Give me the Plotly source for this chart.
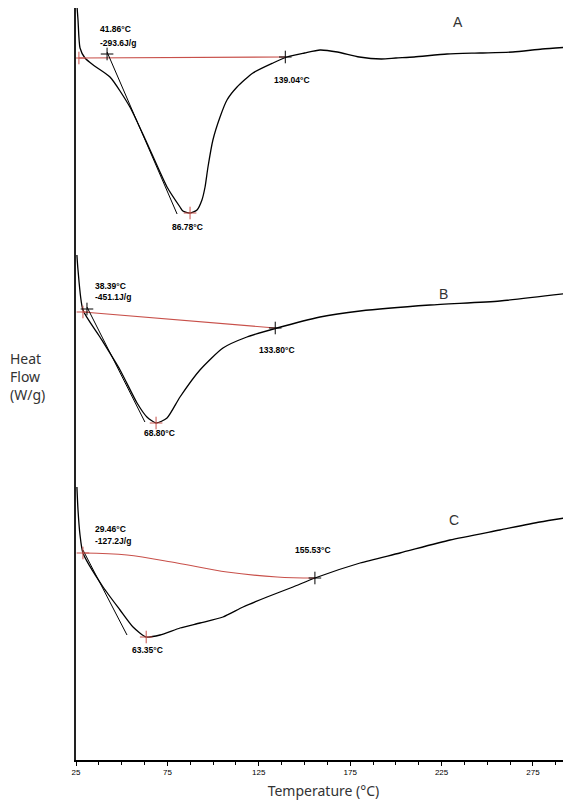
import plotly.graph_objects as go

# ---- Curve A ----
tA = [25.5, 26.1, 27.2, 29.9, 34.4, 43.6, 54.5, 63.8, 74.8, 81.9, 83.5, 87.4, 91.2, 93.9, 95.6, 97.2, 99.9,
      103.8, 107.6, 113.1, 121.8, 132.8, 140.4, 150, 158.5, 168, 180, 192, 200, 210, 228, 246, 264, 280, 295.8]
hA = [7.55, 7.40, 7.12, 7.02, 6.95, 6.83, 6.53, 6.17, 5.73, 5.53, 5.49, 5.47, 5.50, 5.60, 5.73, 5.93, 6.20,
      6.43, 6.60, 6.73, 6.87, 6.97, 7.03, 7.07, 7.10, 7.08, 7.03, 7.01, 7.02, 7.03, 7.06, 7.07, 7.08, 7.11, 7.13]
baseA_t = [26.6, 139.5]
baseA_h = [7.02, 7.03]
tanA_t = [42.0, 80.3]
tanA_h = [7.08, 5.46]

# ---- Curve B ----
tB = [25.5, 26.1, 28.8, 38.1, 49.1, 58.4, 63.8, 68.8, 74.8, 81.9, 92.8, 105.4, 118.5, 135.0, 158.5,
      180.4, 218.7, 256.9, 295.8]
hB = [5.05, 4.90, 4.50, 4.23, 3.90, 3.57, 3.43, 3.37, 3.42, 3.63, 3.90, 4.12, 4.23, 4.32, 4.43,
      4.49, 4.55, 4.59, 4.67]
baseB_t = [28.8, 134.0]
baseB_h = [4.48, 4.32]
tanB_t = [31.0, 62.7]
tanB_h = [4.53, 3.38]

# ---- Curve C ----
tC = [25.5, 26.1, 27.2, 28.8, 39.8, 49.1, 56.2, 63.4, 71.0, 81.9, 92.8, 105.4, 116.4, 129.5, 143.7,
      155.7, 180.4, 202.2, 229.6, 256.9, 278.8, 295.8]
hC = [2.73, 2.50, 2.25, 2.07, 1.73, 1.50, 1.33, 1.23, 1.25, 1.32, 1.37, 1.43, 1.53, 1.63, 1.73,
      1.82, 1.97, 2.07, 2.20, 2.30, 2.38, 2.43]
baseC_t = [28.8, 52.9, 80.3, 107.6, 135.0, 155.7]
baseC_h = [2.07, 2.05, 1.97, 1.88, 1.83, 1.82]
tanC_t = [28.8, 52.9]
tanC_h = [2.10, 1.25]

# markers
red_t = [26.6, 87.4, 28.8, 68.8, 28.8, 63.4]
red_h = [7.02, 5.47, 4.48, 3.37, 2.07, 1.23]
blk_t = [42.0, 139.5, 31.0, 134.0, 155.7]
blk_h = [7.06, 7.03, 4.51, 4.32, 1.82]

# labels
lab_text = ["41.86°C", "-293.6J/g", "86.78°C", "139.04°C",
            "38.39°C", "-451.1J/g", "68.80°C", "133.80°C",
            "29.46°C", "-127.2J/g", "63.35°C", "155.53°C"]
lab_t = [37.0, 37.0, 76.4, 132.2, 34.3, 34.3, 61.1, 124.0, 34.3, 34.3, 54.5, 143.7]
lab_h = [7.31, 7.17, 5.33, 6.80, 4.74, 4.63, 3.27, 4.10, 2.31, 2.19, 1.10, 2.10]

letters = ["A", "B", "C"]
let_t = [234.0, 226.3, 231.8]
let_h = [7.38, 4.66, 2.40]

tick_vals = [25, 75, 125, 175, 225, 275]

RED = "#c8504a"
fig = go.Figure()
for t, h in [(tA, hA), (tB, hB), (tC, hC)]:
    fig.add_trace(go.Scatter(x=t, y=h, mode="lines", line=dict(color="black", width=1.3, shape="spline", smoothing=0.6),
                             hoverinfo="skip", showlegend=False))
for t, h in [(baseA_t, baseA_h), (baseB_t, baseB_h), (baseC_t, baseC_h)]:
    fig.add_trace(go.Scatter(x=t, y=h, mode="lines", line=dict(color=RED, width=1.1, shape="spline"),
                             showlegend=False))
for t, h in [(tanA_t, tanA_h), (tanB_t, tanB_h), (tanC_t, tanC_h)]:
    fig.add_trace(go.Scatter(x=t, y=h, mode="lines", line=dict(color="black", width=1),
                             showlegend=False))
fig.add_trace(go.Scatter(x=red_t, y=red_h, mode="markers",
                         marker=dict(symbol="cross-thin", size=9, line=dict(color=RED, width=1)),
                         showlegend=False))
fig.add_trace(go.Scatter(x=blk_t, y=blk_h, mode="markers",
                         marker=dict(symbol="cross-thin", size=9, line=dict(color="black", width=1)),
                         showlegend=False))

for txt, t, h in zip(lab_text, lab_t, lab_h):
    fig.add_annotation(x=t, y=h, text="<b>" + txt + "</b>", showarrow=False, xanchor="left", yanchor="middle",
                       font=dict(family="Liberation Sans, Arial", size=8.5, color="black"))
for txt, t, h in zip(letters, let_t, let_h):
    fig.add_annotation(x=t, y=h, text=txt, showarrow=False, xanchor="center", yanchor="middle",
                       font=dict(family="Liberation Sans, Arial", size=14, color="#333333"))

fig.add_annotation(xref="paper", yref="paper", x=-0.137, y=0.51, xanchor="left", yanchor="middle", align="left",
                   text="Heat<br>Flow<br>(W/g)", showarrow=False,
                   font=dict(family="Noto Sans, Open Sans", size=14, color="#333333"))

fig.update_layout(
    width=563, height=799, margin=dict(l=68, r=0, t=0, b=47),
    paper_bgcolor="white", plot_bgcolor="white",
    xaxis=dict(range=[25, 295.8], tickvals=tick_vals, ticks="outside", ticklen=4, tickcolor="black",
               showline=True, linecolor="black", linewidth=1.5, showgrid=False, zeroline=False,
               tickfont=dict(family="Liberation Sans, Arial", size=8, color="black"),
               minor=dict(dtick=12.5, tick0=25, ticks="outside", ticklen=3, tickcolor="black"),
               title=dict(text="Temperature (°C)", standoff=10,
                          font=dict(family="Noto Sans, Open Sans", size=14, color="#333333"))),
    yaxis=dict(range=[0, 7.52], showline=True, linecolor="#222222", linewidth=1.5, showticklabels=False,
               ticks="", showgrid=False, zeroline=False),
)
fig.update_xaxes(tickprefix="<b>", ticksuffix="</b>")
fig.write_html("out.html")
